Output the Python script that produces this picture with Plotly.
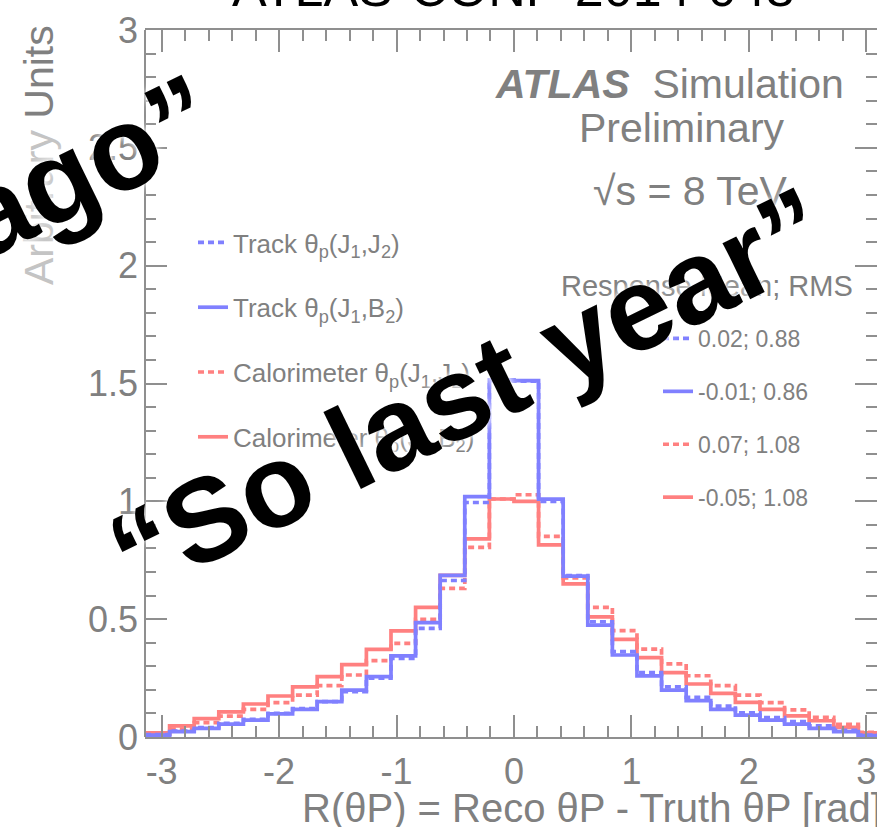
import numpy as np
import plotly.graph_objects as go

# ---------------- data ----------------
n_bins = 30
x_min, x_max = -np.pi, np.pi

track_j1j2 = [0.010, 0.025, 0.040, 0.058, 0.075, 0.100, 0.120, 0.150, 0.192, 0.250,
              0.334, 0.461, 0.664, 0.995, 1.512, 1.510, 1.000, 0.685, 0.489, 0.362,
              0.273, 0.213, 0.168, 0.131, 0.103, 0.082, 0.065, 0.047, 0.028, 0.008]
track_j1b2 = [0.008, 0.023, 0.037, 0.055, 0.072, 0.098, 0.117, 0.150, 0.199, 0.256,
              0.344, 0.485, 0.686, 1.020, 1.516, 1.512, 1.009, 0.683, 0.475, 0.348,
              0.259, 0.199, 0.154, 0.117, 0.093, 0.072, 0.055, 0.037, 0.023, 0.006]
calo_j1j2 = [0.012, 0.034, 0.061, 0.089, 0.117, 0.146, 0.178, 0.218, 0.263, 0.324,
             0.397, 0.499, 0.631, 0.805, 1.010, 1.028, 0.851, 0.675, 0.550, 0.451,
             0.373, 0.310, 0.260, 0.218, 0.178, 0.146, 0.115, 0.083, 0.054, 0.020]
calo_j1b2 = [0.018, 0.047, 0.078, 0.107, 0.140, 0.174, 0.213, 0.256, 0.307, 0.372,
             0.450, 0.550, 0.686, 0.841, 1.010, 1.000, 0.815, 0.650, 0.510, 0.414,
             0.337, 0.273, 0.225, 0.185, 0.147, 0.117, 0.090, 0.069, 0.041, 0.018]

series_names = ["Track θ<sub>p</sub>(J<sub>1</sub>,J<sub>2</sub>)",
                "Track θ<sub>p</sub>(J<sub>1</sub>,B<sub>2</sub>)",
                "Calorimeter θ<sub>p</sub>(J<sub>1</sub>,J<sub>2</sub>)",
                "Calorimeter θ<sub>p</sub>(J<sub>1</sub>,B<sub>2</sub>)"]
resp_mean = [0.02, -0.01, 0.07, -0.05]
resp_rms = [0.88, 0.86, 1.08, 1.08]

x_tick_vals = [-3, -2, -1, 0, 1, 2, 3]
x_tick_text = ["-3", "-2", "-1", "0", "1", "2", "3"]
y_tick_vals = [0, 0.5, 1, 1.5, 2, 2.5, 3]
y_tick_text = ["0", "0.5", "1", "1.5", "2", "2.5", "3"]

# ---------------- style ----------------
W, H = 877, 827
ML, MR, MT, MB = 145, 0, 30, 90
PW, PH = W - ML - MR, H - MT - MB
GRAY = "#808080"
AX = "#8f8f8f"
BLUE = "#8080ff"
RED = "#ff8080"
FONT = "Liberation Sans, Arial, sans-serif"
DOT = "6px,4px"
LW = 3.7

def px(xp):
    return (xp - ML) / PW

def py(yp):
    return (MT + PH - yp) / PH

edges = np.linspace(x_min, x_max, n_bins + 1)

styles = [  # (values, colour, dash, legend rank)
    (calo_j1j2, RED, DOT, 3),
    (calo_j1b2, RED, "solid", 4),
    (track_j1j2, BLUE, DOT, 1),
    (track_j1b2, BLUE, "solid", 2),
]
all_vals = [track_j1j2, track_j1b2, calo_j1j2, calo_j1b2]

fig = go.Figure()
for vals, col, dash, rank in styles:
    idx = all_vals.index(vals)
    fig.add_trace(go.Scatter(
        x=edges, y=list(vals) + [vals[-1]], mode="lines",
        line=dict(color=col, width=LW, dash=dash, shape="hv"),
        name=series_names[idx], legend="legend", legendrank=rank,
        legendgroup=f"g{rank}", hoverinfo="skip"))
    fig.add_trace(go.Scatter(
        x=[None], y=[None], mode="lines",
        line=dict(color=col, width=LW, dash=dash),
        name=f"{resp_mean[idx]:.2f}; {resp_rms[idx]:.2f}",
        legend="legend2", legendrank=rank, legendgroup=f"h{rank}"))

axis_common = dict(
    ticks="inside", ticklen=22, tickwidth=1.5, tickcolor=AX,
    showgrid=False, zeroline=False,
    tickfont=dict(family=FONT, size=36, color=GRAY),
    ticklabeloverflow="allow",
)

fig.update_xaxes(
    range=[x_min, x_min + PW / 117.45], tickmode="array",
    tickvals=x_tick_vals, ticktext=x_tick_text,
    showline=True, linecolor=AX, linewidth=2, mirror="ticks",
    minor=dict(tickmode="linear", tick0=0, dtick=0.2, ticklen=11,
               tickwidth=1.5, tickcolor=AX, ticks="inside"),
    ticklabelstandoff=2,
    **axis_common)
fig.update_yaxes(
    range=[0, 3], tickmode="array", tickvals=y_tick_vals, ticktext=y_tick_text,
    showline=False, mirror="ticks",
    minor=dict(tickmode="linear", tick0=0, dtick=0.1, ticklen=11,
               tickwidth=1.5, tickcolor=AX, ticks="inside"),
    ticklabelstandoff=6,
    **axis_common)

# left axis line (right side has ticks only)
fig.add_shape(type="line", xref="paper", yref="paper", x0=0, x1=0, y0=0, y1=1,
              line=dict(color=AX, width=2))

ann = []
def text(t, x, y, size, color=GRAY, xanchor="center", angle=0, **kw):
    ann.append(dict(text=t, x=px(x), y=py(y), xref="paper", yref="paper",
                    showarrow=False, xanchor=xanchor, yanchor="middle",
                    textangle=angle,
                    font=dict(family=FONT, size=size, color=color), **kw))

text("<b><i>ATLAS</i></b>  Simulation", 846, 84, 41, xanchor="right")
text("Preliminary", 682, 128, 41)
text("√s = 8 TeV", 690, 191, 41)
text("Response Mean; RMS", 707, 286, 29)
text("R(θP) = Reco θP - Truth θP [rad]", 884, 808, 40, xanchor="right")
text("<span style='color:#c4c4c4'>Arbitrary</span> Units", 39, 155, 41, angle=-90)
text("ATLAS-CONF-2014-048", 513, -12, 52, color="black")

glow = "0px 0px 5px rgba(255,255,255,0.95), 0px 0px 12px rgba(255,255,255,0.8)"
for t, x, y in [("ago”", 86, 166), ("“So last year”", 468, 391)]:
    ann.append(dict(text=t, x=px(x), y=py(y), xref="paper", yref="paper",
                    showarrow=False, xanchor="center", yanchor="middle",
                    textangle=-26,
                    font=dict(family=FONT, size=118, color="black",
                              weight="bold", shadow=glow)))

fig.update_layout(
    width=W, height=H, margin=dict(l=ML, r=MR, t=MT, b=MB),
    paper_bgcolor="white", plot_bgcolor="white",
    annotations=ann,
    legend=dict(x=px(193), y=py(219), xanchor="left", yanchor="top",
                bgcolor="rgba(0,0,0,0)", tracegroupgap=28,
                font=dict(family=FONT, size=26, color=GRAY)),
    legend2=dict(x=px(658), y=py(317), xanchor="left", yanchor="top",
                 bgcolor="rgba(0,0,0,0)", tracegroupgap=20,
                 font=dict(family=FONT, size=23, color=GRAY)),
)

fig.write_html("out.html")
